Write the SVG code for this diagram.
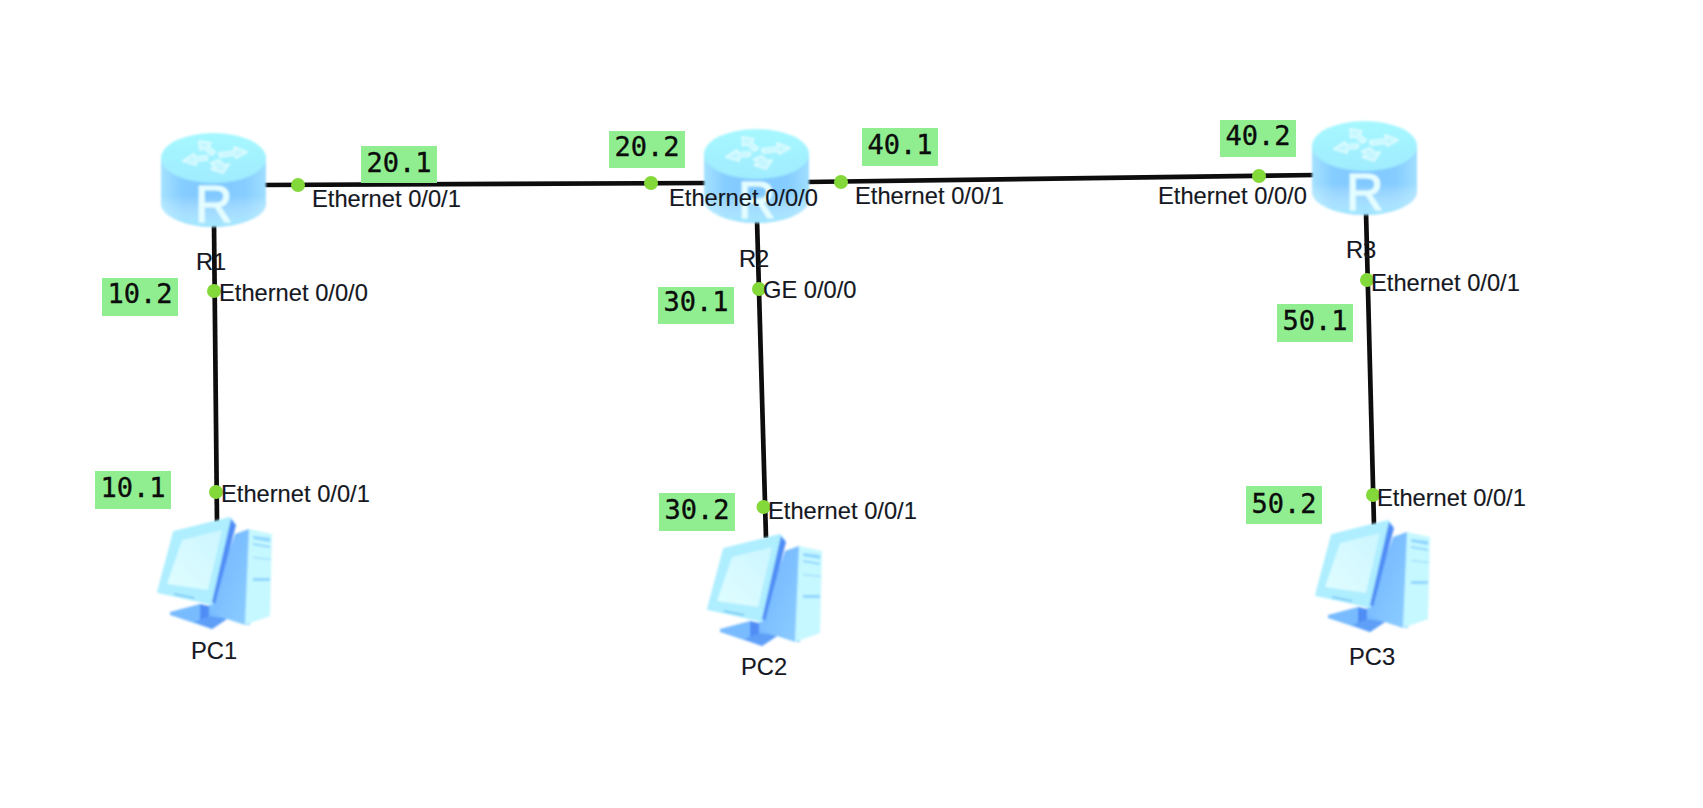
<svg xmlns="http://www.w3.org/2000/svg" width="1703" height="808" viewBox="0 0 1703 808">
<style>
.link{stroke:#0d0d0d;stroke-width:4.7;fill:none}
.dot{fill:#84d93a}
.port,.name{font-family:"Liberation Sans",Arial,sans-serif;font-size:23.700px;fill:#15181f;stroke:#15181f;stroke-width:.15}
.ipbox{fill:#90ee90}
.ip{font-family:"DejaVu Sans Mono","Liberation Mono",monospace;font-size:27px;fill:#0c0c0c;stroke:#0c0c0c;stroke-width:.35;text-anchor:middle}
.arw{fill:#c4f6ff;stroke:#e2fdff;stroke-width:1.600;stroke-linejoin:round}
.rl{font-family:"Liberation Sans",Arial,sans-serif;font-size:52px;fill:#e4fdff;stroke:#e4fdff;stroke-width:1.200}
</style>
<defs>
<filter id="soft" x="-5%" y="-5%" width="110%" height="110%"><feGaussianBlur stdDeviation="1"/></filter>
<linearGradient id="body" x1="0" x2="1" y1="0" y2="0">
<stop offset="0" stop-color="#a4e2ff"/><stop offset=".2" stop-color="#86cdff"/><stop offset=".5" stop-color="#7fc8ff"/><stop offset=".8" stop-color="#86cdff"/><stop offset="1" stop-color="#9fdfff"/>
</linearGradient>
<linearGradient id="bodyb" x1="0" x2="0" y1="0" y2="1">
<stop offset="0" stop-color="#fff" stop-opacity="0"/><stop offset=".55" stop-color="#fff" stop-opacity="0"/><stop offset="1" stop-color="#a8eeff" stop-opacity=".8"/>
</linearGradient>
<linearGradient id="top" x1="0" x2="0" y1="0" y2="1">
<stop offset="0" stop-color="#a6f8ff"/><stop offset="1" stop-color="#a0ecff"/>
</linearGradient>
<linearGradient id="scr" x1="0" x2="1" y1="1" y2="0">
<stop offset="0" stop-color="#e0fdff"/><stop offset="1" stop-color="#ccf6ff"/>
</linearGradient>
<linearGradient id="side" x1="0" x2="1" y1="0" y2="1">
<stop offset="0" stop-color="#6fb6ff"/><stop offset=".5" stop-color="#7dc0ff"/><stop offset="1" stop-color="#8ccdff"/>
</linearGradient>
<g id="router" filter="url(#soft)">
<path d="M6 30V76C6 88 30 99 58.500 99S111 88 111 76V30Z" fill="url(#body)"/>
<path d="M6 30V76C6 88 30 99 58.500 99S111 88 111 76V30Z" fill="url(#bodyb)"/>
<ellipse cx="58.500" cy="30" rx="52.500" ry="25" fill="url(#top)"/>
<path class="arw" d="M64 25 80 23 79 19 92 24 81 30 80 27 65 29Z"/>
<path class="arw" d="M52 28 40 29 39 26 28 33 41 37 41 33 52 32Z"/>
<path class="arw" d="M60 24 53 19 56 15 44 13 45 22 49 20 56 27Z"/>
<path class="arw" d="M56 35 60 40 56 41 68 45 74 36 69 37 64 32Z"/>
<text class="rl" x="40" y="94">R</text>
</g>
<g id="pc" filter="url(#soft)">
<path d="M85 22 99 17 100 113 95 113 77 107 58 97Z" fill="url(#side)"/>
<path d="M99 17 122 22 120 104 95 113Z" fill="#c6f8ff"/>
<path d="M103 24 120 26V30L103 27ZM103 31 120 34V36L103 33ZM103 45 121 47V48L103 46ZM103 66H120V69H103Z" fill="#8fd6ff"/>
<path d="M20 100 50 92 77 107 62 117 20 103Z" fill="#78bcff"/>
<path d="M50 92 59 94V108H50Z" fill="#4f8df5"/>
<path d="M60 104 77 107 62 117 44 110Z" fill="#5f9ff8"/>
<path d="M8 80 24 20 80 6 84 11 62 92Z" fill="#aeeeff" stroke="#aeeeff" stroke-width="2" stroke-linejoin="round"/>
<path d="M32 28 72 18 58 78 17 72Z" fill="url(#scr)"/>
<path d="M81 7 86 13 65 92 62 90Z" fill="#4f8df5"/>
<path d="M24 82 44 86" stroke="#6fc0f0" stroke-width="1.500"/>
</g>
</defs>
<rect width="1703" height="808" fill="#fff"/>
<g id="connectors">
<line class="link" x1="262" y1="185" x2="708" y2="183"/>
<line class="link" x1="806" y1="182" x2="1316" y2="175"/>
<line class="link" x1="214" y1="224" x2="217" y2="522"/>
<line class="link" x1="757" y1="220" x2="766" y2="538"/>
<line class="link" x1="1366" y1="212" x2="1374" y2="525"/>
<circle class="dot" cx="298" cy="185" r="7"/>
<circle class="dot" cx="651" cy="183" r="7"/>
<circle class="dot" cx="841" cy="182" r="7"/>
<circle class="dot" cx="1259" cy="176" r="7"/>
<circle class="dot" cx="214" cy="291" r="7"/>
<circle class="dot" cx="216" cy="492" r="7"/>
<circle class="dot" cx="759" cy="289" r="7"/>
<circle class="dot" cx="763.500" cy="507" r="7"/>
<circle class="dot" cx="1367" cy="280" r="7"/>
<circle class="dot" cx="1373" cy="495" r="7"/>
</g>
<g id="R1"><use href="#router" transform="translate(155 128)"/><text class="name" x="196" y="270">R1</text></g>
<g id="R2"><use href="#router" transform="translate(698 124)"/><text class="name" x="739" y="267">R2</text></g>
<g id="R3"><use href="#router" transform="translate(1306 116)"/><text class="name" x="1346" y="258">R3</text></g>
<g id="PC1"><use href="#pc" transform="translate(150 512)"/><text class="name" x="191" y="659">PC1</text></g>
<g id="PC2"><use href="#pc" transform="translate(700 529)"/><text class="name" x="741" y="675">PC2</text></g>
<g id="PC3"><use href="#pc" transform="translate(1308 515)"/><text class="name" x="1349" y="665">PC3</text></g>
<g id="port-labels">
<text class="port" x="312" y="207">Ethernet 0/0/1</text>
<text class="port" x="219" y="301">Ethernet 0/0/0</text>
<text class="port" x="221" y="502">Ethernet 0/0/1</text>
<text class="port" x="669" y="206">Ethernet 0/0/0</text>
<text class="port" x="855" y="204">Ethernet 0/0/1</text>
<text class="port" x="763" y="298">GE 0/0/0</text>
<text class="port" x="768" y="519">Ethernet 0/0/1</text>
<text class="port" x="1158" y="204">Ethernet 0/0/0</text>
<text class="port" x="1371" y="291">Ethernet 0/0/1</text>
<text class="port" x="1377" y="506">Ethernet 0/0/1</text>
</g>
<g id="ip-labels">
<rect class="ipbox" x="361" y="146" width="76" height="37"/><text class="ip" x="399" y="172">20.1</text>
<rect class="ipbox" x="102" y="278" width="76" height="38"/><text class="ip" x="140" y="303">10.2</text>
<rect class="ipbox" x="95" y="471" width="76" height="38"/><text class="ip" x="133" y="497">10.1</text>
<rect class="ipbox" x="609" y="131" width="76" height="37"/><text class="ip" x="647" y="156">20.2</text>
<rect class="ipbox" x="862" y="128" width="76" height="38"/><text class="ip" x="900" y="154">40.1</text>
<rect class="ipbox" x="658" y="287" width="76" height="37"/><text class="ip" x="696" y="311">30.1</text>
<rect class="ipbox" x="1220" y="120" width="76" height="37"/><text class="ip" x="1258" y="145">40.2</text>
<rect class="ipbox" x="1277" y="304" width="76" height="38"/><text class="ip" x="1315" y="330">50.1</text>
<rect class="ipbox" x="659" y="493" width="76" height="38"/><text class="ip" x="697" y="519">30.2</text>
<rect class="ipbox" x="1246" y="486" width="76" height="38"/><text class="ip" x="1284" y="513">50.2</text>
</g>
</svg>
